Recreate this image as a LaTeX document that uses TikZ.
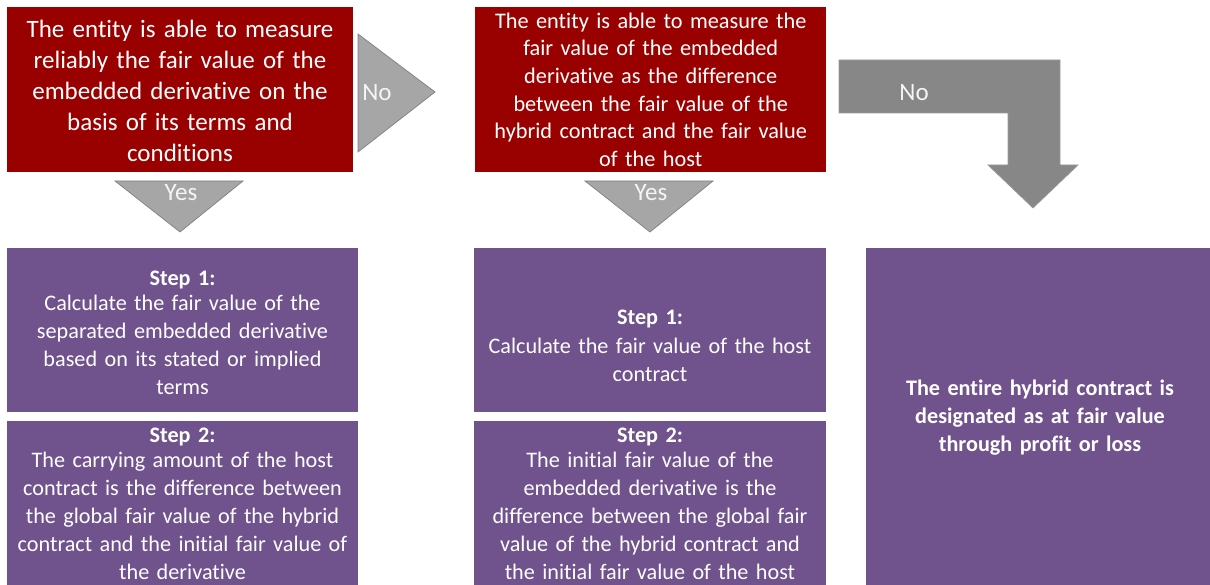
\documentclass[tikz,border=0pt]{standalone}
\usepackage{fontspec}
\setmainfont{Carlito}[Ligatures=NoCommon]
\definecolor{boxred}{RGB}{153,0,0}
\definecolor{boxpurple}{RGB}{112,82,140}
\definecolor{arrowgray}{RGB}{166,166,166}
\definecolor{arrowedge}{RGB}{128,128,128}
\definecolor{bendgray}{RGB}{135,135,135}
\definecolor{labelwhite}{RGB}{245,245,245}
\begin{document}
\begin{tikzpicture}[x=1pt,y=-1pt,
  panel/.style={rectangle, inner sep=0pt, anchor=north west},
  redpanel/.style={panel, fill=boxred},
  purplepanel/.style={panel, fill=boxpurple},
  paneltext/.style={text=white, align=center, inner sep=0pt, text width=340pt},
  redbig/.style={paneltext, font=\fontsize{25}{31}\selectfont},
  redsmall/.style={paneltext, font=\fontsize{22.3}{27.6}\selectfont},
  steptext/.style={paneltext, font=\fontsize{22.2}{28}\selectfont},
  decisionarrow/.style={fill=arrowgray, draw=arrowedge, line width=0.7pt, line join=miter},
  bentarrow/.style={fill=bendgray, draw=bendgray!85!white, line width=0.7pt},
  arrowlabel/.style={text=labelwhite, inner sep=0pt, font=\fontsize{25}{28}\selectfont}
]
\useasboundingbox (0,0) rectangle (1210,585);

% decision panels
\node[redpanel, minimum width=346pt, minimum height=165pt] (q1) at (7,7) {};
\node[redpanel, minimum width=351pt, minimum height=165pt] (q2) at (475,7) {};
\node[redbig] (q1text) at (180,91) {The entity is able to measure\\ reliably the fair value of the\\ embedded derivative on the\\ basis of its terms and\\ conditions};
\node[redsmall] (q2text) at (q2.center) {The entity is able to measure the\\ fair value of the embedded\\ derivative as the difference\\ between the fair value of the\\ hybrid contract and the fair value\\ of the host};

% outcome panels
\node[purplepanel, minimum width=351pt, minimum height=164pt] (a1) at (7,248) {};
\node[purplepanel, minimum width=351pt, minimum height=164pt] (a2) at (7,421) {};
\node[purplepanel, minimum width=352pt, minimum height=164pt] (b1) at (474,248) {};
\node[purplepanel, minimum width=352pt, minimum height=164pt] (b2) at (474,421) {};
\node[purplepanel, minimum width=344pt, minimum height=337pt] (c) at (866,248) {};

\node[steptext] (a1text) at (182.5,333) {\textbf{Step 1:}\\[-3pt] Calculate the fair value of the\\ separated embedded derivative\\ based on its stated or implied\\ terms};
\node[steptext, anchor=north] (a2text) at (182.5,428) {\textbf{Step 2:}\\[-3pt] The carrying amount of the host\\ contract is the difference between\\ the global fair value of the hybrid\\ contract and the initial fair value of\\ the derivative};
\node[steptext] (b1text) at (650,346) {\textbf{Step 1:}\\[1pt] Calculate the fair value of the host\\ contract};
\node[steptext, anchor=north] (b2text) at (650,428) {\textbf{Step 2:}\\[-3pt] The initial fair value of the\\ embedded derivative is the\\ difference between the global fair\\ value of the hybrid contract and\\ the initial fair value of the host};
\node[steptext, font=\bfseries\fontsize{22.2}{28}\selectfont] (ctext) at (1040,418) {The entire hybrid contract is\\ designated as at fair value\\ through profit or loss};

% flow arrows
\draw[decisionarrow] (358,34) -- (435,92) -- (358,152) -- cycle;
\draw[decisionarrow] (115,181) -- (243,181) -- (180,232) -- cycle;
\draw[decisionarrow] (585,181) -- (713,181) -- (650,232) -- cycle;
\draw[bentarrow] (839,60) -- (1060,60) -- (1060,165) -- (1078,165) -- (1033,208)
  -- (988,165) -- (1008,165) -- (1008,113) -- (839,113) -- cycle;

\node[arrowlabel] (no1) at (377,93) {No};
\node[arrowlabel] (yes1) at (181,193) {Yes};
\node[arrowlabel] (yes2) at (651,193) {Yes};
\node[arrowlabel] (no2) at (914,93) {No};
\end{tikzpicture}
\end{document}
